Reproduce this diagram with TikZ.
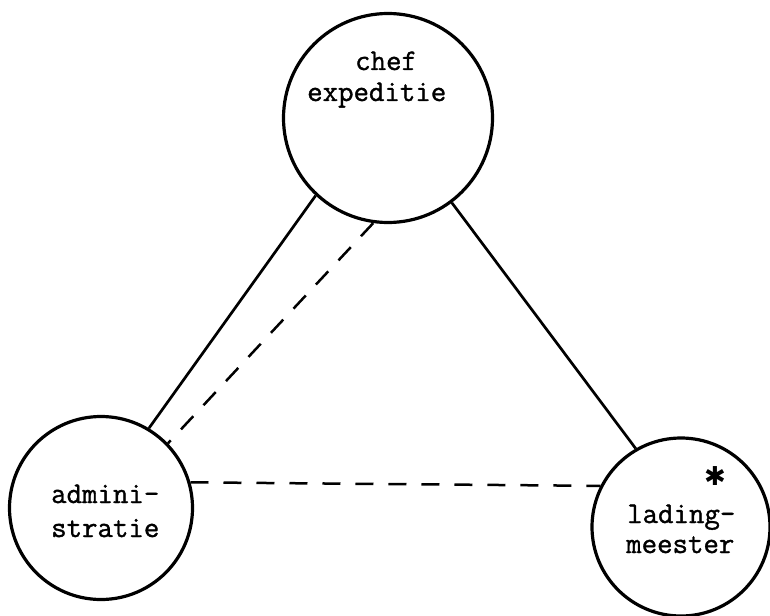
\documentclass[tikz,border=0pt]{standalone}
\usepackage{fontspec}
\newfontfamily\twfont[FakeBold=1.2]{Latin Modern Mono}
\newfontfamily\symfont{DejaVu Sans}
\begin{document}
\begin{tikzpicture}[x=1pt,y=-1pt,
  unit/.style={circle,draw=black,line width=3.2pt,inner sep=0pt,minimum size=#1},
  lbl/.style={anchor=base west,inner sep=0pt,font=\twfont\fontsize{30}{32}\selectfont},
  link/.style={line width=2.7pt},
  dlink/.style={line width=2.5pt,dash pattern=on 18pt off 15pt}]
\useasboundingbox (0,0) rectangle (770,615);
\node[unit=209pt] (chef) at (388,118) {};
\node[unit=183pt] (admin) at (101,508) {};
\node[unit=178pt] (lading) at (681,527) {};
\node[lbl] (t1) at (355,70) {chef};
\node[lbl] (t2) at (307,101) {expeditie};
\node[lbl] (a1) at (51,503) {admini-};
\node[lbl] (a2) at (51,537) {stratie};
\node[lbl] (l1) at (627,523) {lading-};
\node[lbl] (l2) at (626,553) {meester};
\node[inner sep=0pt,font=\symfont\fontsize{26}{26}\selectfont] (star) at (715,476) {✱};
\draw[link] (chef.227.5) -- (admin.59.6);
\draw[dlink] (chef.262) -- (admin.44);
\draw[link] (chef.307) -- (lading.120.4);
\draw[dlink] (admin.16.3) -- (lading.153.7);
\end{tikzpicture}
\end{document}
